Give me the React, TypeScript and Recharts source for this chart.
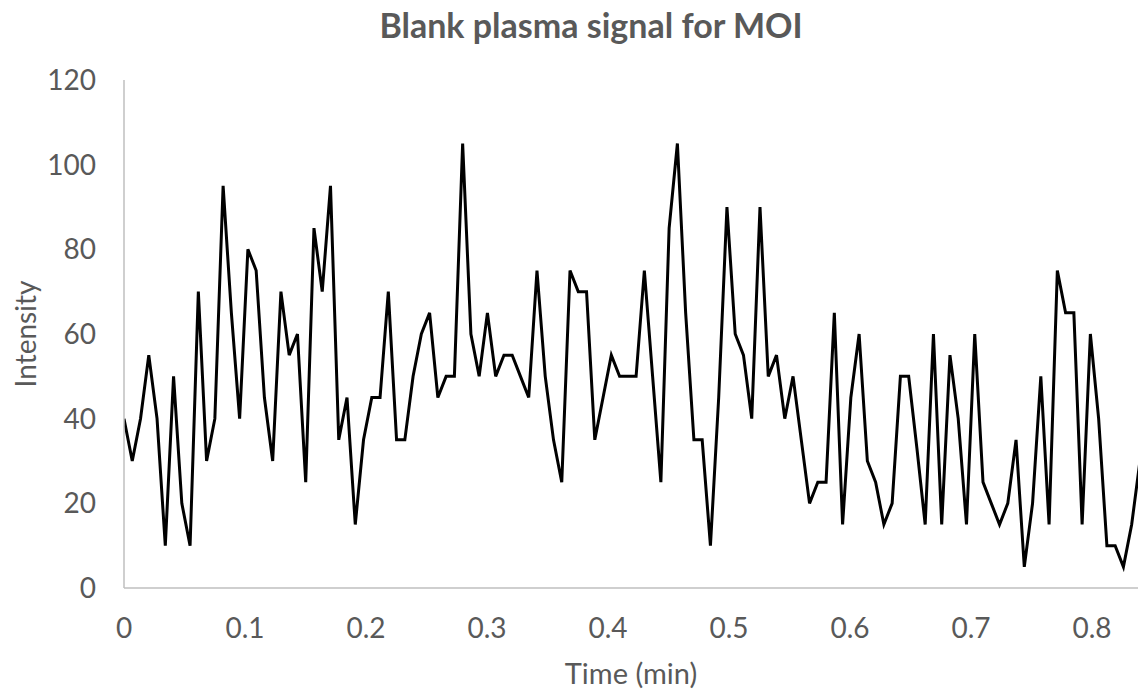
import React from 'react';
import { LineChart, Line, XAxis, YAxis } from 'recharts';

// Regular sampling interval of the acquisition (minutes between points)
const SAMPLE_INTERVAL_MIN = 0.006826;

// Intensity values, in acquisition order
const intensity: number[] = [
  40, 30, 40, 55, 40, 10, 50, 20, 10, 70,
  30, 40, 95, 65, 40, 80, 75, 45, 30, 70,
  55, 60, 25, 85, 70, 95, 35, 45, 15, 35,
  45, 45, 70, 35, 35, 50, 60, 65, 45, 50,
  50, 105, 60, 50, 65, 50, 55, 55, 50, 45,
  75, 50, 35, 25, 75, 70, 70, 35, 45, 55,
  50, 50, 50, 75, 50, 25, 85, 105, 65, 35,
  35, 10, 45, 90, 60, 55, 40, 90, 50, 55,
  40, 50, 35, 20, 25, 25, 65, 15, 45, 60,
  30, 25, 15, 20, 50, 50, 33, 15, 60, 15,
  55, 40, 15, 60, 25, 20, 15, 20, 35, 5,
  20, 50, 15, 75, 65, 65, 15, 60, 40, 10,
  10, 5, 15, 30,
];

const xTicks: number[] = [0, 0.1, 0.2, 0.3, 0.4, 0.5, 0.6, 0.7, 0.8];
const yTicks: number[] = [0, 20, 40, 60, 80, 100, 120];

const data = intensity.map((v, i) => ({ time: i * SAMPLE_INTERVAL_MIN, intensity: v }));

const FONT = 'Lato, "Open Sans", sans-serif';
const GREY = '#595959';

const YLabel = (props: any) => {
  const vb = props.viewBox || {};
  const cx = (vb.x ?? 0) + 25;
  const cy = (vb.y ?? 0) + (vb.height ?? 0) / 2;
  return (
    <text
      x={cx}
      y={cy}
      transform={`rotate(-90 ${cx} ${cy})`}
      textAnchor="middle"
      dominantBaseline="central"
      fill={GREY}
      fontFamily={FONT}
      fontSize={28}
    >
      Intensity
    </text>
  );
};

export default function App() {
  return (
    <div style={{ position: 'absolute', left: 0, top: 0, width: 1138, height: 693, background: '#fff' }}>
      <LineChart width={1138} height={693} data={data} margin={{ top: 80, right: 0, bottom: 0, left: 0 }}>
        <text
          x={591}
          y={38}
          textAnchor="middle"
          fill={GREY}
          fontFamily={FONT}
          fontWeight="bold"
          fontSize={34}
        >
          Blank plasma signal for MOI
        </text>
        <XAxis
          dataKey="time"
          type="number"
          domain={[0, 0.838]}
          allowDataOverflow
          ticks={xTicks}
          tickLine={false}
          tickSize={0}
          tickMargin={30}
          height={105}
          axisLine={{ stroke: '#bfbfbf', strokeWidth: 1.5 }}
          tick={{ fill: GREY, fontSize: 28, fontFamily: FONT }}
          label={{ value: 'Time (min)', position: 'insideBottom', offset: 9, fill: GREY, fontSize: 29, fontFamily: FONT }}
        />
        <YAxis
          type="number"
          domain={[0, 120]}
          ticks={yTicks}
          width={124}
          tickLine={false}
          tickSize={0}
          tickMargin={28}
          axisLine={{ stroke: '#bfbfbf', strokeWidth: 1.5 }}
          tick={{ fill: GREY, fontSize: 28, fontFamily: FONT }}
          label={<YLabel />}
        />
        <Line
          type="linear"
          dataKey="intensity"
          stroke="#000000"
          strokeWidth={3}
          dot={false}
          isAnimationActive={false}
        />
      </LineChart>
    </div>
  );
}
